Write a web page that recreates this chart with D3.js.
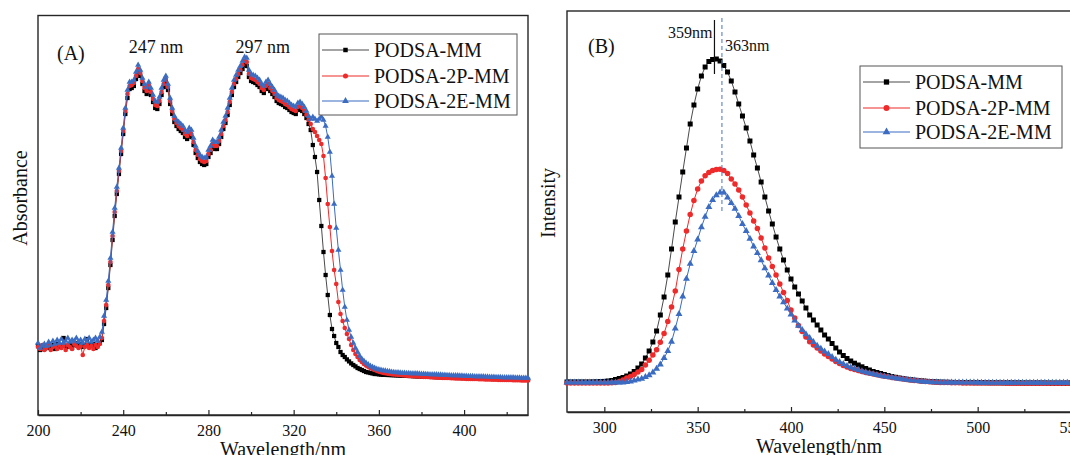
<!DOCTYPE html>
<html>
<head>
<meta charset="utf-8">
<script src="https://cdn.jsdelivr.net/npm/d3@7"></script>
<style>
  html, body { margin: 0; padding: 0; background: #fff; }
  svg { display: block; font-family: "Liberation Serif", "Times New Roman", serif; }
  svg text { font-family: "Liberation Serif", "Times New Roman", serif; }
</style>
</head>
<body>
<svg id="chart" width="1070" height="455"></svg>
<script>
// ---- Series metadata ----
const seriesNames = ["PODSA-MM", "PODSA-2P-MM", "PODSA-2E-MM"];

// ---- (A) UV-vis absorbance, 1 nm sampling from 200 to 430 nm ----
const absWavelength = d3.range(200, 431, 1);
const absMM = [
  0.345,0.320,0.335,0.325,0.340,0.330,0.335,0.345,0.325,0.350,
  0.335,0.345,0.380,0.340,0.335,0.350,0.330,0.345,0.355,0.340,
  0.350,0.335,0.345,0.375,0.345,0.340,0.350,0.330,0.345,0.355,
  0.370,0.450,0.530,0.630,0.745,0.870,0.990,1.100,1.200,1.300,
  1.400,1.500,1.580,1.625,1.630,1.640,1.675,1.710,1.690,1.650,
  1.615,1.600,1.625,1.595,1.560,1.530,1.525,1.550,1.595,1.635,
  1.660,1.620,1.550,1.500,1.460,1.440,1.425,1.415,1.405,1.385,
  1.375,1.395,1.385,1.345,1.305,1.280,1.260,1.250,1.245,1.250,
  1.285,1.305,1.335,1.325,1.325,1.350,1.385,1.425,1.455,1.495,
  1.545,1.595,1.635,1.660,1.685,1.705,1.725,1.745,1.740,1.685,
  1.665,1.660,1.655,1.645,1.635,1.615,1.605,1.625,1.635,1.615,
  1.600,1.585,1.565,1.555,1.550,1.545,1.535,1.530,1.520,1.510,
  1.505,1.500,1.520,1.525,1.515,1.500,1.480,1.450,1.420,1.345,
  1.285,1.210,1.070,0.940,0.810,0.695,0.595,0.495,0.425,0.390,
  0.355,0.335,0.310,0.295,0.285,0.273,0.263,0.253,0.245,0.238,
  0.230,0.225,0.220,0.215,0.210,0.208,0.205,0.203,0.200,0.200,
  0.198,0.197,0.196,0.196,0.195,0.195,0.194,0.194,0.193,0.193,
  0.192,0.192,0.191,0.191,0.190,0.190,0.189,0.189,0.188,0.188,
  0.187,0.187,0.186,0.186,0.186,0.185,0.185,0.184,0.184,0.184,
  0.183,0.183,0.182,0.182,0.182,0.181,0.181,0.181,0.180,0.180,
  0.180,0.179,0.179,0.179,0.178,0.178,0.178,0.177,0.177,0.177,
  0.176,0.176,0.176,0.175,0.175,0.175,0.175,0.174,0.174,0.174,
  0.174,0.173,0.173,0.173,0.173,0.172,0.172,0.172,0.172,0.171,
  0.171
];
const abs2P = [
  0.335,0.325,0.345,0.320,0.330,0.345,0.320,0.335,0.340,0.325,
  0.345,0.330,0.340,0.320,0.345,0.335,0.325,0.350,0.340,0.330,
  0.340,0.295,0.335,0.345,0.330,0.340,0.325,0.345,0.335,0.350,
  0.380,0.465,0.545,0.645,0.760,0.890,1.010,1.115,1.215,1.315,
  1.415,1.515,1.600,1.640,1.645,1.655,1.690,1.725,1.705,1.665,
  1.630,1.615,1.645,1.610,1.575,1.545,1.540,1.565,1.610,1.650,
  1.675,1.635,1.565,1.515,1.475,1.455,1.440,1.430,1.420,1.400,
  1.390,1.410,1.400,1.360,1.320,1.295,1.275,1.265,1.260,1.265,
  1.300,1.320,1.350,1.340,1.340,1.365,1.400,1.440,1.470,1.510,
  1.560,1.610,1.650,1.675,1.700,1.720,1.745,1.765,1.760,1.700,
  1.680,1.675,1.670,1.660,1.650,1.630,1.620,1.640,1.650,1.630,
  1.615,1.600,1.580,1.570,1.565,1.560,1.550,1.545,1.535,1.525,
  1.520,1.515,1.535,1.540,1.530,1.515,1.495,1.470,1.450,1.425,
  1.410,1.390,1.370,1.350,1.290,1.180,1.050,0.935,0.815,0.720,
  0.650,0.560,0.500,0.465,0.430,0.400,0.375,0.345,0.320,0.300,
  0.285,0.270,0.260,0.250,0.242,0.236,0.230,0.225,0.220,0.216,
  0.212,0.209,0.206,0.204,0.202,0.200,0.199,0.198,0.197,0.196,
  0.195,0.194,0.193,0.192,0.191,0.190,0.189,0.189,0.188,0.187,
  0.187,0.186,0.185,0.185,0.184,0.184,0.183,0.183,0.182,0.182,
  0.181,0.181,0.180,0.180,0.179,0.179,0.178,0.178,0.178,0.177,
  0.177,0.176,0.176,0.176,0.175,0.175,0.175,0.174,0.174,0.174,
  0.173,0.173,0.173,0.172,0.172,0.172,0.171,0.171,0.171,0.171,
  0.170,0.170,0.170,0.169,0.169,0.169,0.169,0.168,0.168,0.168,
  0.168
];
const abs2E = [
  0.355,0.330,0.340,0.350,0.340,0.360,0.345,0.365,0.350,0.370,
  0.355,0.375,0.355,0.365,0.380,0.360,0.370,0.365,0.380,0.360,
  0.370,0.355,0.375,0.365,0.380,0.360,0.370,0.380,0.365,0.385,
  0.410,0.490,0.570,0.665,0.780,0.910,1.030,1.135,1.230,1.330,
  1.430,1.530,1.620,1.660,1.660,1.670,1.710,1.745,1.720,1.680,
  1.650,1.635,1.660,1.630,1.595,1.565,1.560,1.585,1.630,1.670,
  1.690,1.650,1.580,1.530,1.490,1.470,1.460,1.450,1.440,1.420,
  1.410,1.430,1.420,1.380,1.340,1.315,1.295,1.285,1.280,1.285,
  1.320,1.340,1.370,1.360,1.360,1.385,1.420,1.460,1.490,1.530,
  1.580,1.630,1.670,1.695,1.720,1.740,1.765,1.785,1.780,1.720,
  1.700,1.695,1.690,1.680,1.670,1.650,1.640,1.660,1.670,1.650,
  1.635,1.620,1.600,1.590,1.585,1.580,1.570,1.565,1.555,1.545,
  1.540,1.535,1.555,1.560,1.550,1.535,1.515,1.490,1.475,1.485,
  1.475,1.465,1.475,1.485,1.470,1.440,1.385,1.310,1.190,1.050,
  0.930,0.820,0.720,0.620,0.535,0.470,0.420,0.385,0.355,0.330,
  0.310,0.290,0.275,0.265,0.255,0.248,0.240,0.235,0.230,0.225,
  0.222,0.220,0.218,0.216,0.214,0.212,0.210,0.209,0.208,0.207,
  0.206,0.205,0.205,0.204,0.204,0.203,0.203,0.202,0.202,0.201,
  0.200,0.200,0.199,0.199,0.198,0.198,0.197,0.197,0.196,0.196,
  0.195,0.195,0.194,0.194,0.193,0.193,0.192,0.192,0.191,0.191,
  0.190,0.190,0.189,0.189,0.189,0.188,0.188,0.187,0.187,0.187,
  0.186,0.186,0.185,0.185,0.185,0.184,0.184,0.184,0.183,0.183,
  0.183,0.182,0.182,0.182,0.181,0.181,0.181,0.180,0.180,0.180,
  0.180
];

// ---- (B) photoluminescence intensity, 2 nm sampling from 280 to 550 nm ----
const plWavelength = d3.range(280, 551, 2);
const plMM = [
  290,290,290,290,290,290,290,291,292,294,
  296,300,305,315,325,335,350,370,395,430,
  470,530,600,690,800,960,1140,1360,1620,1890,
  2140,2390,2630,2870,3060,3220,3350,3440,3495,3515,
  3520,3500,3455,3390,3300,3190,3070,2950,2830,2700,
  2560,2430,2290,2140,2000,1870,1740,1620,1510,1410,
  1320,1240,1170,1100,1030,960,910,860,810,760,
  720,675,630,590,555,525,500,478,460,442,
  425,410,395,385,375,365,355,345,337,330,
  324,318,313,309,305,301,298,295,293,291,
  289,288,287,286,285,285,284,284,284,283,
  283,283,283,282,282,282,282,281,281,281,
  281,281,280,280,280,280,280,280,280,279,
  279,279,279,279,279,279
];
const pl2P = [
  280,280,280,280,280,280,280,280,280,280,
  280,280,282,285,295,310,330,345,365,390,
  415,460,508,560,613,688,775,895,1040,1200,
  1415,1620,1800,1965,2105,2220,2300,2352,2386,2405,
  2415,2417,2405,2375,2320,2270,2210,2140,2060,1980,
  1900,1825,1730,1630,1530,1445,1360,1270,1185,1105,
  1010,930,855,795,740,693,660,630,600,570,
  545,520,495,475,455,440,425,415,405,395,
  385,377,370,362,355,348,342,336,330,325,
  320,315,310,305,302,298,295,292,290,288,
  286,285,284,283,282,282,281,281,281,280,
  280,280,280,279,279,279,279,279,278,278,
  278,278,278,278,277,277,277,277,277,277,
  277,277,277,277,277,277
];
const pl2E = [
  285,285,285,285,285,285,285,285,285,285,
  285,285,285,285,285,285,290,295,305,315,
  323,340,358,385,422,465,530,600,693,825,
  970,1145,1322,1472,1600,1715,1838,1943,2040,2110,
  2158,2185,2185,2135,2080,2023,1950,1870,1800,1723,
  1645,1580,1507,1427,1354,1280,1210,1145,1087,1025,
  965,905,853,810,768,730,690,653,623,595,
  570,540,513,490,470,450,435,422,410,398,
  388,378,369,360,353,346,340,334,328,323,
  318,313,308,304,300,296,293,290,288,287,
  286,285,285,285,284,284,284,284,284,284,
  284,283,283,283,283,283,283,283,283,283,
  283,283,283,283,283,283,283,283,283,283,
  283,283,283,283,283,283
];

// ---- Axis ticks and annotations ----
const absTicks = [200, 240, 280, 320, 360, 400];
const absMinorTicks = [220, 260, 300, 340, 380, 420];
const plTicks = [300, 350, 400, 450, 500, 550];
const plMinorTicks = [325, 375, 425, 475, 525];
const absPeakLabels = [ { nm: 247, text: "247 nm" }, { nm: 297, text: "297 nm" } ];
const plPeakMM = 359;          // emission maximum of PODSA-MM
const plPeak2E = 363;          // emission maximum of the substituted samples
const plPeakMMLine = [3370, 3910];   // solid marker line extent (intensity units)
const plPeak2ELine = [1980, 3930];   // dashed marker line extent (intensity units)

// ---- Styling ----
const markerColors = ["#000000", "#ee2a2a", "#3b6cc2"];
const lineColors = ["#4a4a4a", "#ee2a2a", "#3b6cc2"];
const symbolTypes = [d3.symbolSquare, d3.symbolCircle, d3.symbolTriangle];
const FRAME = "#262626";
const SERIF = "Liberation Serif, Times New Roman, serif";

const svg = d3.select("#chart");

function drawPanel(cfg) {
  const g = svg.append("g");
  const x = d3.scaleLinear().domain(cfg.xDomain).range([cfg.left, cfg.right]);
  const y = d3.scaleLinear().domain(cfg.yDomain).range([cfg.yBottom, cfg.yTop]);

  // frame
  g.append("rect")
    .attr("x", cfg.left).attr("y", cfg.top)
    .attr("width", cfg.right - cfg.left).attr("height", cfg.bottom - cfg.top)
    .attr("fill", "none").attr("stroke", FRAME).attr("stroke-width", 1.4);

  // bottom axis: major ticks with labels, minor ticks without, all pointing inward
  const major = d3.axisBottom(x).tickValues(cfg.ticks).tickFormat(d3.format("d"))
    .tickSizeInner(-5).tickSizeOuter(0).tickPadding(cfg.tickPad);
  const ax = g.append("g").attr("transform", `translate(0,${cfg.bottom})`).call(major)
    .attr("font-family", SERIF).attr("font-size", 16);
  ax.select(".domain").attr("stroke", FRAME).attr("stroke-width", 1.4);
  ax.selectAll(".tick line").attr("stroke", FRAME).attr("stroke-width", 1.2);
  ax.selectAll(".tick text").attr("fill", "#111").style("font-family", SERIF).style("font-size", "16px");

  const minor = d3.axisBottom(x).tickValues(cfg.minorTicks).tickFormat("")
    .tickSizeInner(-3).tickSizeOuter(0);
  const mx = g.append("g").attr("transform", `translate(0,${cfg.bottom})`).call(minor);
  mx.select(".domain").remove();
  mx.selectAll(".tick line").attr("stroke", FRAME).attr("stroke-width", 1.2);

  // axis titles
  g.append("text")
    .attr("x", (cfg.left + cfg.right) / 2).attr("y", cfg.titleY)
    .attr("text-anchor", "middle").attr("font-size", 20).attr("fill", "#111")
    .text("Wavelength/nm");
  g.append("text")
    .attr("transform", `translate(${cfg.yTitleX},${cfg.yTitleY}) rotate(-90)`)
    .attr("text-anchor", "middle").attr("dominant-baseline", "central")
    .attr("font-size", 20).attr("fill", "#111")
    .text(cfg.yTitle);

  // series: line then markers
  const plot = g.append("g");
  cfg.series.forEach((vals, i) => {
    const pts = cfg.xs.map((w, k) => [w, vals[k]]);
    plot.append("path")
      .datum(pts)
      .attr("fill", "none").attr("stroke", lineColors[i]).attr("stroke-width", 1)
      .attr("d", d3.line().x(d => x(d[0])).y(d => y(d[1])));
    const sym = d3.symbol().type(symbolTypes[i]).size(cfg.markerSizes[i]);
    plot.append("g").selectAll("path")
      .data(pts).join("path")
      .attr("transform", d => `translate(${x(d[0])},${y(d[1])})`)
      .attr("d", sym).attr("fill", markerColors[i]);
  });

  // legend
  const lg = g.append("g");
  lg.append("rect")
    .attr("x", cfg.legend.x).attr("y", cfg.legend.y)
    .attr("width", cfg.legend.w).attr("height", cfg.legend.h)
    .attr("fill", "#fff").attr("stroke", "#555").attr("stroke-width", 1);
  seriesNames.forEach((name, i) => {
    const cy = cfg.legend.y + cfg.legend.rowY[i];
    const x0 = cfg.legend.x + 3, x1 = x0 + 47;
    lg.append("line").attr("x1", x0).attr("x2", x1).attr("y1", cy).attr("y2", cy)
      .attr("stroke", lineColors[i]).attr("stroke-width", 1.2);
    lg.append("path")
      .attr("transform", `translate(${(x0 + x1) / 2},${cy})`)
      .attr("d", d3.symbol().type(symbolTypes[i]).size(cfg.legendMarkerSizes[i])())
      .attr("fill", markerColors[i]);
    lg.append("text").attr("x", x1 + 5).attr("y", cy)
      .attr("dominant-baseline", "central").attr("font-size", 20).attr("fill", "#111")
      .text(name);
  });

  return { g, x, y };
}

// ---- Panel A ----
const A = drawPanel({
  left: 38, right: 528, top: 15.5, bottom: 415,
  xDomain: [200, 430], yDomain: [0, 2], yBottom: 414, yTop: 14,
  ticks: absTicks, minorTicks: absMinorTicks, tickPad: 10,
  titleY: 456, yTitle: "Absorbance", yTitleX: 20, yTitleY: 198,
  xs: absWavelength, series: [absMM, abs2P, abs2E],
  markerSizes: [18, 17, 16], legendMarkerSizes: [20, 20, 20],
  legend: { x: 319, y: 34, w: 198, h: 81, rowY: [16, 42, 67] }
});
A.g.append("text").attr("x", 57).attr("y", 60).attr("font-size", 20).attr("fill", "#111").text("(A)");
A.g.selectAll(".peaklabel").data(absPeakLabels).join("text")
  .attr("class", "peaklabel")
  .attr("x", d => A.x(d.nm) + 18).attr("y", 53)
  .attr("text-anchor", "middle").attr("font-size", 18).attr("fill", "#111")
  .text(d => d.text);

// ---- Panel B ----
const B = drawPanel({
  left: 567, right: 1071, top: 11, bottom: 412,
  xDomain: [280, 550], yDomain: [0, 4000], yBottom: 411, yTop: 11,
  ticks: plTicks, minorTicks: plMinorTicks, tickPad: 9.5,
  titleY: 453, yTitle: "Intensity", yTitleX: 548, yTitleY: 203,
  xs: plWavelength, series: [plMM, pl2P, pl2E],
  markerSizes: [25, 24, 21], legendMarkerSizes: [28, 28, 26],
  legend: { x: 860, y: 66, w: 202, h: 82, rowY: [16, 42, 66] }
});
B.g.append("text").attr("x", 588).attr("y", 53).attr("font-size", 20).attr("fill", "#111").text("(B)");
B.g.append("line")
  .attr("x1", B.x(plPeakMM)).attr("x2", B.x(plPeakMM))
  .attr("y1", B.y(plPeakMMLine[1])).attr("y2", B.y(plPeakMMLine[0]))
  .attr("stroke", "#111").attr("stroke-width", 1.2);
B.g.append("line")
  .attr("x1", B.x(plPeak2E)).attr("x2", B.x(plPeak2E))
  .attr("y1", B.y(plPeak2ELine[1])).attr("y2", B.y(plPeak2ELine[0]))
  .attr("stroke", "#5a7fc8").attr("stroke-width", 1.1).attr("stroke-dasharray", "4,3");
B.g.append("text").attr("x", B.x(plPeakMM) - 2).attr("y", 38)
  .attr("text-anchor", "end").attr("font-size", 16).attr("fill", "#111").text(plPeakMM + "nm");
B.g.append("text").attr("x", B.x(plPeak2E) + 3).attr("y", 51)
  .attr("text-anchor", "start").attr("font-size", 16).attr("fill", "#111").text(plPeak2E + "nm");
</script>
</body>
</html>
